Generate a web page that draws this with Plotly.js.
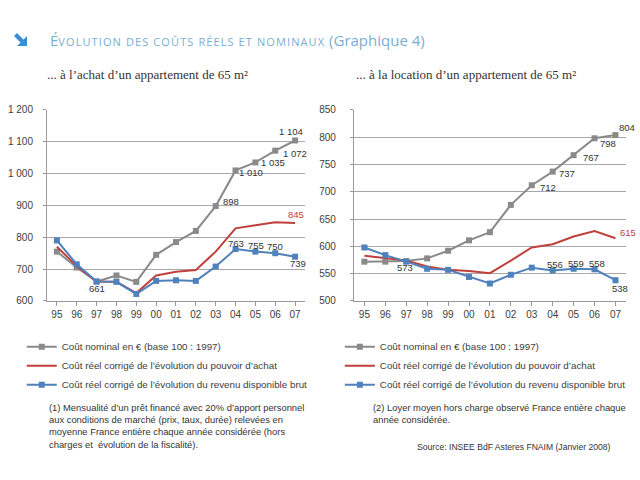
<!DOCTYPE html>
<html><head><meta charset="utf-8">
<script src="https://cdn.plot.ly/plotly-3.0.1.min.js"></script>
<style>body{margin:0;background:#fff}#c{width:640px;height:480px}</style>
</head><body><div id="c"></div>
<script>
const years = ['95','96','97','98','99','00','01','02','03','04','05','06','07'];

const achatNominal = [755, 705, 661, 680, 660, 745, 785, 820, 898, 1010, 1035, 1072, 1104];
const achatPouvoir = [770, 710, 661, 660, 625, 680, 692, 697, 755, 828, 838, 847, 845];
const achatRevenu  = [790, 715, 661, 660, 622, 663, 665, 663, 708, 763, 755, 750, 739];

const locNominal = [572, 572, 573, 578, 592, 611, 626, 676, 712, 737, 767, 798, 804];
const locPouvoir = [583, 579, 574, 563, 557, 555, 551, 574, 598, 604, 618, 628, 615];
const locRevenu  = [598, 584, 572, 559, 557, 544, 532, 548, 561, 556, 559, 558, 538];

// indices of the points that carry a data label
const achatNominalLab = [2, 8, 9, 10, 11, 12];
const achatPouvoirLab = [12];
const achatRevenuLab  = [9, 10, 11, 12];
const locNominalLab = [2, 8, 9, 10, 11, 12];
const locPouvoirLab = [12];
const locRevenuLab  = [9, 10, 11, 12];

const seriesNames = [
  'Coût nominal en € (base 100 : 1997)',
  'Coût réel corrigé de l’évolution du pouvoir d’achat',
  'Coût réel corrigé de l’évolution du revenu disponible brut'
];

function fmt(v){ const s = String(v); return s.length > 3 ? s.slice(0, s.length-3) + ' ' + s.slice(-3) : s; }

const GRAY = '#8a8a8a', RED = '#c0403c', BLUE = '#4f81bd';
const SANS = 'Liberation Sans, Arial, sans-serif';

function makeTraces(nom, pou, rev, xa, ya, lg){
  return [
    {x:years, y:nom, name:seriesNames[0], type:'scatter', mode:'lines+markers',
     line:{color:GRAY, width:2}, marker:{symbol:'square', size:6, color:GRAY},
     xaxis:xa, yaxis:ya, legend:lg, legendgroup:lg+'a', hoverinfo:'skip'},
    {x:years, y:pou, name:seriesNames[1], type:'scatter', mode:'lines',
     line:{color:RED, width:2},
     xaxis:xa, yaxis:ya, legend:lg, legendgroup:lg+'b', hoverinfo:'skip'},
    {x:years, y:rev, name:seriesNames[2], type:'scatter', mode:'lines+markers',
     line:{color:BLUE, width:2}, marker:{symbol:'square', size:6, color:BLUE},
     xaxis:xa, yaxis:ya, legend:lg, legendgroup:lg+'c', hoverinfo:'skip'}
  ];
}

const data = [
  ...makeTraces(achatNominal, achatPouvoir, achatRevenu, 'x', 'y', 'legend'),
  ...makeTraces(locNominal, locPouvoir, locRevenu, 'x2', 'y2', 'legend2')
];

// label placement offsets (pixels) for each labelled point, in order
const offAchatNom = [[0,-7],[15,5],[15,-2.5],[18,-0.5],[20,-3],[-4,8.5]];
const offAchatPou = [[1,8]];
const offAchatRev = [[0,6],[1,6],[0,6.5],[3,-7]];
const offLocNom = [[-1,-6],[16,-2],[14,-2],[17,-2],[13,-5],[12,8]];
const offLocPou = [[13,6]];
const offLocRev = [[2,6],[2,5.5],[2,5.5],[5,-8]];

// x is the category's serial position on the category axis
function labelAnns(vals, idx, offs, xa, ya, color){
  return idx.map((i,k) => ({xref:xa, yref:ya, x:i, y:vals[i], text:fmt(vals[i]), showarrow:false,
    xanchor:'center', yanchor:'middle', xshift:offs[k][0], yshift:offs[k][1],
    font:{family:SANS, size:9.5, color:color}}));
}

const tickFont = {family:SANS, size:10, color:'#404040'};
const xax = (dom, anchor) => ({domain:dom, anchor:anchor, type:'category', range:[-0.5,12.5],
  showgrid:false, showline:true, linecolor:'#999', linewidth:1, ticks:'outside', ticklen:4, tickcolor:'#999',
  tickfont:tickFont, fixedrange:true});
const yax = (dom, anchor, rng, dt, stand) => ({domain:dom, anchor:anchor, range:rng, dtick:dt, tick0:0,
  showgrid:true, gridcolor:'#a8a8a8', gridwidth:1, showline:true, linecolor:'#999', linewidth:1,
  ticks:'outside', ticklen:3, tickcolor:'#999', tickfont:tickFont, ticklabelstandoff:stand,
  separatethousands:true, zeroline:false, fixedrange:true});

const legFont = {family:SANS, size:9.8, color:'#404040'};
const legCommon = {orientation:'v', xanchor:'left', yanchor:'top', font:legFont, itemwidth:30,
  traceorder:'grouped', tracegroupgap:0, bgcolor:'rgba(0,0,0,0)'};

const SC = 'font-size:11px;letter-spacing:1.1px';
const title = '<span style="font-size:15px">É</span><span style="' + SC + '">VOLUTION DES COÛTS RÉELS ET NOMINAUX</span> (Graphique 4)';

const px = v => v/640, py = v => 1 - v/480;
const arrowPts = [[14,36],[17,33],[23.5,39.5],[27,36],[27,46],[17,46],[20.5,42.5]];
const arrowPath = 'M' + arrowPts.map(p => px(p[0]) + ',' + py(p[1])).join(' L') + ' Z';

const textAnns = [
    {xref:'paper', yref:'paper', x:px(48), y:py(40), xanchor:'left', yanchor:'middle', showarrow:false,
     text:title, font:{family:'Open Sans, sans-serif', size:15, color:'#7aaed3'}},
    {xref:'paper', yref:'paper', x:px(45), y:py(74), xanchor:'left', yanchor:'middle', showarrow:false,
     text:'... à l’achat d’un appartement de 65 m²', font:{family:'Liberation Serif, serif', size:13, color:'#333'}},
    {xref:'paper', yref:'paper', x:px(354), y:py(74), xanchor:'left', yanchor:'middle', showarrow:false,
     text:'... à la location d’un appartement de 65 m²', font:{family:'Liberation Serif, serif', size:13, color:'#333'}},
    {xref:'paper', yref:'paper', x:px(47), y:py(400), xanchor:'left', yanchor:'top', showarrow:false, align:'left',
     text:'(1) Mensualité d’un prêt financé avec 20% d’apport personnel<br>aux conditions de marché (prix, taux, durée) relevées en<br>moyenne France entière chaque année considérée (hors<br>charges et  évolution de la fiscalité).',
     font:{family:SANS, size:9.4, color:'#333'}},
    {xref:'paper', yref:'paper', x:px(371), y:py(400), xanchor:'left', yanchor:'top', showarrow:false, align:'left',
     text:'(2) Loyer moyen hors charge observé France entière chaque<br>année considérée.',
     font:{family:SANS, size:9.4, color:'#333'}},
    {xref:'paper', yref:'paper', x:px(415), y:py(447), xanchor:'left', yanchor:'middle', showarrow:false,
     text:'Source: INSEE BdF Asteres FNAIM (Janvier 2008)',
     font:{family:SANS, size:8.6, color:'#333'}}
];

const layout = {
  width:640, height:480, margin:{l:0,r:0,t:0,b:0}, paper_bgcolor:'#fff', plot_bgcolor:'#fff',
  separators:', ', showlegend:true,
  xaxis: xax([0.0734, 0.4766], 'y'),
  yaxis: yax([0.373, 0.771], 'x', [600, 1200], 100, 8),
  xaxis2: xax([0.553, 0.978], 'y2'),
  yaxis2: yax([0.373, 0.771], 'x2', [500, 850], 50, 12),
  legend: Object.assign({}, legCommon, {x:0.034, y:0.308}),
  legend2: Object.assign({}, legCommon, {x:0.531, y:0.308}),
  shapes:[
    {type:'path', xref:'paper', yref:'paper', path:arrowPath, fillcolor:'#3b8fd3', line:{width:0}}
  ],
  annotations: textAnns.concat(
    labelAnns(achatNominal, achatNominalLab, offAchatNom, 'x', 'y', '#333'),
    labelAnns(achatPouvoir, achatPouvoirLab, offAchatPou, 'x', 'y', RED),
    labelAnns(achatRevenu, achatRevenuLab, offAchatRev, 'x', 'y', '#333'),
    labelAnns(locNominal, locNominalLab, offLocNom, 'x2', 'y2', '#333'),
    labelAnns(locPouvoir, locPouvoirLab, offLocPou, 'x2', 'y2', RED),
    labelAnns(locRevenu, locRevenuLab, offLocRev, 'x2', 'y2', '#333')
  )
};

Plotly.newPlot('c', data, layout, {staticPlot:true, displayModeBar:false});
</script>
</body></html>
